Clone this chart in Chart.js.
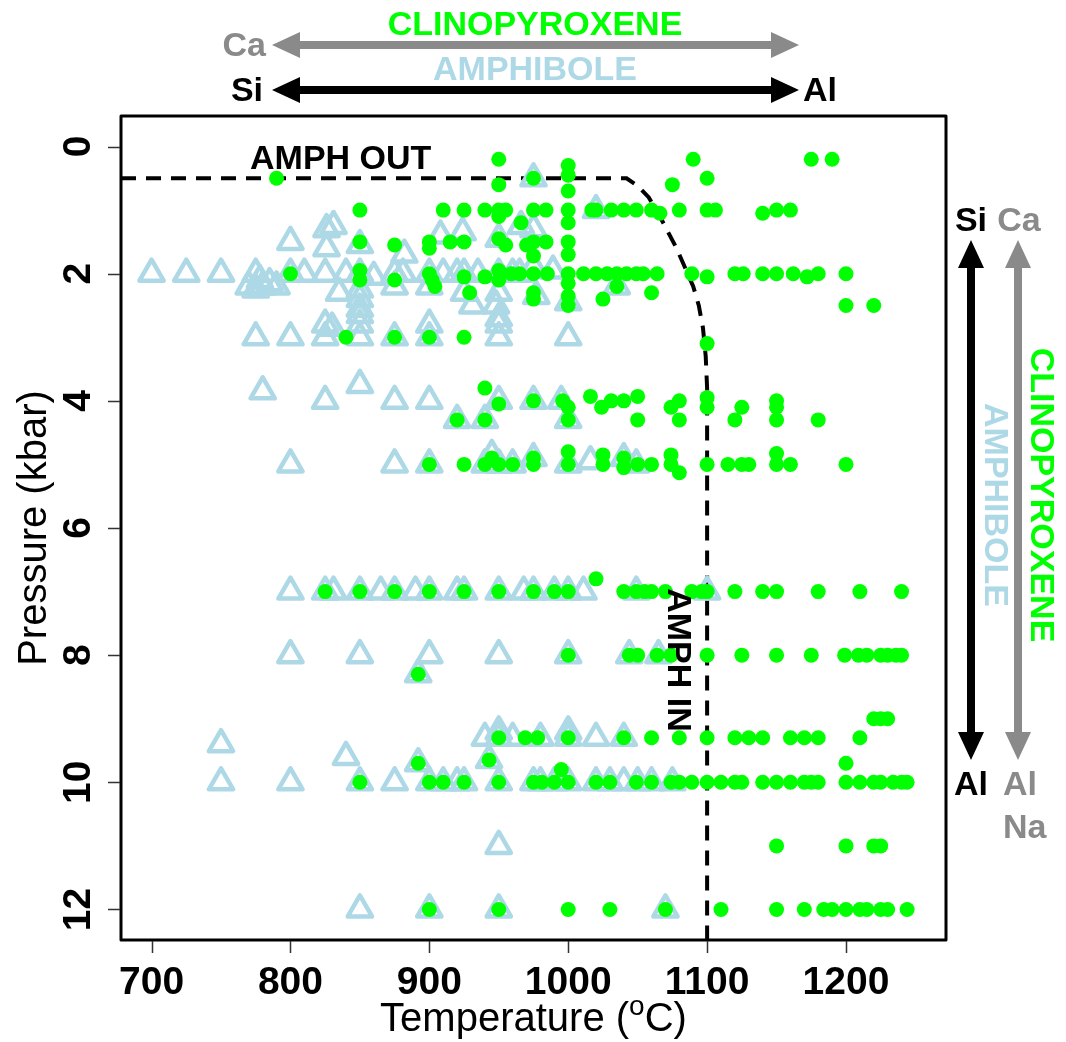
<!DOCTYPE html>
<html>
<head>
<meta charset="utf-8">
<script src="https://cdn.jsdelivr.net/npm/chart.js@4.4.1/dist/chart.umd.min.js"></script>
<style>
  html, body { margin: 0; padding: 0; background: #fff; }
  #wrap { width: 1066px; height: 1042px; position: relative; }
</style>
</head>
<body>
<div id="wrap"><canvas id="pt-chart"></canvas></div>
<script>
// Amphibole / clinopyroxene stability, P-T experiments

const tempTicks = [700, 800, 900, 1000, 1100, 1200];
const pressureTicks = [0, 2, 4, 6, 8, 10, 12];

// amphibole-bearing runs [T (C), P (kbar)]
const amphibolePoints = [
    [975, 0.5], [1020, 1.0],
    [800, 1.5], [826, 1.3], [831, 1.25], [826, 1.6], [850, 1.55], [882, 1.7], [908, 1.4], [924, 1.35],
    [950, 1.45], [966, 1.25], [975, 1.3],
    [700, 2.0], [725, 2.0], [750, 2.0], [775, 2.0], [800, 2.0], [810, 2.0], [825, 2.0], [840, 2.0],
    [850, 2.0], [860, 2.05], [875, 2.0], [881, 2.0], [900, 2.0], [910, 2.0], [920, 2.0], [925, 2.0],
    [935, 2.0], [950, 2.0], [960, 2.0], [965, 2.0], [975, 1.9], [989, 1.95],
    [770, 2.2], [775, 2.25], [780, 2.2], [785, 2.15], [790, 2.2], [778, 2.1], [835, 2.3], [850, 2.25],
    [850, 2.4], [850, 2.55], [875, 2.2], [900, 2.2], [925, 2.3], [931, 2.5], [948, 2.5], [950, 2.3],
    [977, 2.35], [1000, 2.45], [1035, 2.2],
    [825, 2.8], [830, 2.85], [850, 2.65], [850, 2.8], [900, 2.8], [950, 2.7], [950, 2.8],
    [775, 3.0], [800, 3.0], [825, 3.0], [850, 3.0], [875, 3.0], [900, 3.0], [950, 3.0], [1000, 3.0],
    [780, 3.85], [825, 4.0], [850, 3.75], [875, 4.0], [900, 4.0], [920, 4.3], [940, 4.3], [950, 4.0],
    [975, 4.0], [995, 4.0], [1000, 4.3],
    [800, 5.0], [875, 5.0], [900, 5.0], [940, 5.0], [945, 4.85], [950, 5.0], [960, 5.0], [975, 4.9],
    [1000, 5.0], [1016, 4.95], [1040, 4.9], [1049, 5.0],
    [800, 7], [825, 7], [831, 7], [850, 7], [865, 7], [875, 7], [890, 7], [900, 7], [920, 7], [925, 7],
    [950, 7], [968, 7], [975, 7], [990, 7], [1000, 7], [1011, 7], [1049, 7], [1100, 7],
    [800, 8], [850, 8], [900, 8], [950, 8], [1000, 8], [1044, 8], [1065, 8], [892, 8.3],
    [750, 9.4], [840, 9.6], [892, 9.7], [943, 9.65], [940, 9.3], [950, 9.2], [950, 9.3], [960, 9.3],
    [980, 9.3], [1000, 9.2], [1000, 9.3], [1020, 9.3], [1040, 9.3],
    [750, 10], [800, 10], [850, 10], [875, 10], [900, 10], [910, 10], [920, 10], [925, 10], [950, 10],
    [975, 10], [980, 10], [990, 10], [1000, 10], [1020, 10], [1030, 10], [1040, 10], [1050, 10],
    [1060, 10], [1075, 10],
    [950, 11], [850, 12], [900, 12], [950, 12], [1070, 12]
];

// clinopyroxene-bearing runs [T (C), P (kbar)]
const cpxPoints = [
    [790, 0.5], [950, 0.2], [950, 0.6], [975, 0.5], [1000, 0.3], [1000, 0.45], [1000, 0.7], [1075, 0.6],
    [1090, 0.2], [1100, 0.5], [1175, 0.2], [1190, 0.2],
    [850, 1.0], [910, 1.0], [925, 1.0], [940, 1.0], [950, 1.0], [950, 1.1], [955, 1.0], [966, 1.2],
    [975, 1.0], [984, 1.0], [1000, 1.0], [1000, 1.2], [1017, 1.0], [1020, 1.0], [1031, 1.0], [1040, 1.0],
    [1049, 1.0], [1060, 1.0], [1066, 1.05], [1080, 1.0], [1100, 1.0], [1106, 1.0], [1140, 1.05],
    [1150, 1.0], [1160, 1.0],
    [850, 1.5], [875, 1.55], [900, 1.5], [900, 1.6], [915, 1.5], [925, 1.5], [950, 1.45], [955, 1.55],
    [970, 1.55], [975, 1.5], [975, 1.72], [984, 1.5], [1000, 1.5], [1000, 1.7],
    [800, 2.0], [850, 1.95], [850, 2.1], [875, 2.1], [900, 2.0], [902, 2.1], [904, 2.2], [925, 2.05],
    [929, 2.3], [940, 2.05], [950, 1.95], [950, 2.1], [959, 2.0], [965, 2.0], [975, 2.0], [975, 2.3],
    [975, 2.4], [985, 2.0], [1000, 2.0], [1000, 2.15], [1000, 2.35], [1000, 2.5], [1011, 2.0],
    [1020, 2.0], [1028, 2.0], [1035, 2.0], [1042, 2.0], [1049, 2.0], [1054, 2.0], [1064, 2.0],
    [1089, 2.0], [1100, 2.05], [1120, 2.0], [1126, 2.0], [1140, 2.0], [1150, 2.0], [1162, 2.0],
    [1172, 2.05], [1180, 2.0], [1200, 2.0],
    [1025, 2.4], [1035, 2.2], [1060, 2.3], [1200, 2.5], [1220, 2.5],
    [840, 3.0], [875, 3.0], [900, 3.0], [925, 3.0], [1100, 3.1],
    [940, 3.8], [950, 4.05], [975, 4.0], [996, 4.0], [1000, 4.1], [1016, 3.93], [1024, 4.1], [1031, 4.0],
    [1040, 4.0], [1050, 3.93], [1074, 4.1], [1080, 4.0], [1100, 3.95], [1100, 4.1], [1125, 4.1],
    [1150, 4.0], [1150, 4.1],
    [920, 4.3], [940, 4.3], [1000, 4.3], [1050, 4.3], [1080, 4.3], [1120, 4.3], [1150, 4.3], [1180, 4.3],
    [900, 5.0], [925, 5.0], [940, 5.0], [945, 4.9], [950, 5.0], [960, 5.0], [975, 4.9], [975, 5.0],
    [1000, 4.8], [1000, 5.0], [1025, 4.85], [1025, 5.0], [1040, 4.9], [1040, 5.05], [1050, 5.0],
    [1060, 5.0], [1074, 4.85], [1074, 5.0], [1080, 5.13], [1100, 5.0], [1115, 5.0], [1125, 5.0],
    [1130, 5.0], [1150, 4.83], [1150, 5.0], [1160, 5.0], [1200, 5.0],
    [825, 7], [850, 7], [875, 7], [900, 7], [925, 7], [950, 7], [975, 7], [990, 7], [1000, 7],
    [1020, 6.8], [1040, 7], [1049, 7], [1055, 7], [1060, 7], [1070, 7], [1089, 7], [1096, 7], [1100, 7],
    [1120, 7], [1140, 7], [1150, 7], [1180, 7], [1210, 7], [1240, 7],
    [892, 8.3], [1000, 8], [1044, 8], [1050, 8], [1064, 8], [1074, 8], [1100, 8], [1125, 8], [1150, 8],
    [1175, 8], [1199, 8], [1209, 8], [1215, 8], [1225, 8], [1230, 8], [1236, 8], [1240, 8],
    [1220, 9.0], [1225, 9.0], [1230, 9.0],
    [950, 9.3], [969, 9.3], [978, 9.3], [1000, 9.3], [1040, 9.3], [1060, 9.3], [1080, 9.3], [1100, 9.3],
    [1120, 9.3], [1130, 9.3], [1140, 9.3], [1160, 9.3], [1170, 9.3], [1180, 9.3], [1210, 9.3],
    [892, 9.7], [943, 9.65], [995, 9.8], [1200, 9.7],
    [850, 10], [900, 10], [910, 10], [925, 10], [950, 10], [975, 10], [981, 10], [990, 10], [1000, 10],
    [1020, 10], [1030, 10], [1049, 10], [1060, 10], [1074, 10], [1080, 10], [1089, 10], [1100, 10],
    [1110, 10], [1120, 10], [1125, 10], [1140, 10], [1150, 10], [1160, 10], [1170, 10], [1175, 10],
    [1180, 10], [1200, 10], [1210, 10], [1220, 10], [1225, 10], [1234, 10], [1240, 10], [1244, 10],
    [1150, 11], [1200, 11], [1220, 11], [1225, 11],
    [900, 12], [950, 12], [1000, 12], [1030, 12], [1070, 12], [1110, 12], [1150, 12], [1170, 12],
    [1184, 12], [1190, 12], [1200, 12], [1210, 12], [1215, 12], [1225, 12], [1230, 12], [1244, 12]
];

// amphibole in/out boundary (dashed)
const boundaryT = [678, 1042, 1050, 1058, 1066, 1072, 1078, 1084, 1090, 1094, 1097, 1099, 1100, 1100];
const boundaryP = [0.5, 0.5, 0.62, 0.8, 1.1, 1.35, 1.6, 1.9, 2.2, 2.5, 2.85, 3.3, 3.8, 12.6];

const colors = {
    black: '#000000',
    gray: '#8a8a8a',
    green: '#00ff00',
    lightblue: '#add8e6',
    tick: '#333333'
};
const fontFamily = '"Liberation Sans", Arial, sans-serif';

function drawText(ctx, text, x, y, opts = {}) {
    const { color = colors.black, size = 34, weight = 'bold', align = 'center', rotate = 0 } = opts;
    ctx.save();
    ctx.translate(x, y);
    if (rotate) ctx.rotate(rotate);
    ctx.font = `${weight} ${size}px ${fontFamily}`;
    ctx.fillStyle = color;
    ctx.textAlign = align;
    ctx.textBaseline = 'alphabetic';
    ctx.fillText(text, 0, 0);
    ctx.restore();
}

// double-headed arrow between two points
function drawArrow(ctx, x1, y1, x2, y2, color) {
    const shaft = 8, headLen = 28, headHalf = 13;
    const len = Math.hypot(x2 - x1, y2 - y1);
    ctx.save();
    ctx.translate(x1, y1);
    ctx.rotate(Math.atan2(y2 - y1, x2 - x1));
    ctx.fillStyle = color;
    ctx.fillRect(headLen - 1, -shaft / 2, len - 2 * headLen + 2, shaft);
    ctx.beginPath();
    ctx.moveTo(0, 0);
    ctx.lineTo(headLen, -headHalf);
    ctx.lineTo(headLen, headHalf);
    ctx.closePath();
    ctx.moveTo(len, 0);
    ctx.lineTo(len - headLen, -headHalf);
    ctx.lineTo(len - headLen, headHalf);
    ctx.closePath();
    ctx.fill();
    ctx.restore();
}

const decorPlugin = {
    id: 'decor',
    beforeDatasetsDraw(chart) {
        chart.ctx.lineJoin = 'round';
    },
    afterDraw(chart) {
        const { ctx, chartArea: a, scales: { x, y } } = chart;
        ctx.save();

        // frame
        ctx.strokeStyle = colors.black;
        ctx.lineWidth = 3;
        ctx.strokeRect(a.left, a.top, a.right - a.left, a.bottom - a.top);

        // tick marks
        ctx.strokeStyle = colors.tick;
        ctx.lineWidth = 1.5;
        ctx.beginPath();
        tempTicks.forEach(t => {
            const px = Math.round(x.getPixelForValue(t)) + 0.5;
            ctx.moveTo(px, a.bottom + 1);
            ctx.lineTo(px, a.bottom + 13);
        });
        pressureTicks.forEach(p => {
            const py = Math.round(y.getPixelForValue(p)) + 0.5;
            ctx.moveTo(a.left - 1, py);
            ctx.lineTo(a.left - 13, py);
        });
        ctx.stroke();

        // tick labels
        tempTicks.forEach(t => drawText(ctx, String(t), x.getPixelForValue(t), 994, { size: 39 }));
        pressureTicks.forEach(p => drawText(ctx, String(p), 90, y.getPixelForValue(p), { size: 39, rotate: -Math.PI / 2 }));

        // axis titles
        drawText(ctx, 'Pressure (kbar)', 46, (a.top + a.bottom) / 2, { size: 40, weight: 'normal', rotate: -Math.PI / 2 });
        ctx.font = `normal 40px ${fontFamily}`;
        const p1 = 'Temperature (', p3 = 'C)';
        const w1 = ctx.measureText(p1).width, w3 = ctx.measureText(p3).width;
        ctx.font = `normal 28px ${fontFamily}`;
        const w2 = ctx.measureText('o').width;
        let tx = (a.left + a.right) / 2 - (w1 + w2 + w3) / 2;
        drawText(ctx, p1, tx, 1031, { size: 40, weight: 'normal', align: 'left' });
        drawText(ctx, 'o', tx + w1, 1015, { size: 28, weight: 'normal', align: 'left' });
        drawText(ctx, p3, tx + w1 + w2, 1031, { size: 40, weight: 'normal', align: 'left' });

        // top composition arrows
        drawText(ctx, 'CLINOPYROXENE', 535, 35, { color: colors.green });
        drawText(ctx, 'Ca', 266, 56, { color: colors.gray, align: 'right' });
        drawArrow(ctx, 272, 45, 799, 45, colors.gray);
        drawText(ctx, 'AMPHIBOLE', 535, 80, { color: colors.lightblue });
        drawText(ctx, 'Si', 263, 101, { align: 'right' });
        drawArrow(ctx, 272, 90, 799, 90, colors.black);
        drawText(ctx, 'Al', 803, 101, { align: 'left' });

        // right composition arrows
        drawText(ctx, 'Si', 971, 231);
        drawText(ctx, 'Ca', 1019, 231, { color: colors.gray });
        drawArrow(ctx, 971, 240, 971, 760, colors.black);
        drawArrow(ctx, 1018, 240, 1018, 760, colors.gray);
        drawText(ctx, 'AMPHIBOLE', 985, 505, { color: colors.lightblue, rotate: Math.PI / 2 });
        drawText(ctx, 'CLINOPYROXENE', 1031, 495, { color: colors.green, rotate: Math.PI / 2 });
        drawText(ctx, 'Al', 971, 795);
        drawText(ctx, 'Al', 1003, 795, { color: colors.gray, align: 'left' });
        drawText(ctx, 'Na', 1003, 838, { color: colors.gray, align: 'left' });

        // boundary labels
        drawText(ctx, 'AMPH OUT', 250, 169, { align: 'left' });
        drawText(ctx, 'AMPH IN', 668, 660, { rotate: Math.PI / 2 });

        ctx.restore();
    }
};

document.addEventListener('DOMContentLoaded', () => {
    const ctx = document.getElementById('pt-chart');

    new Chart(ctx, {
        type: 'scatter',
        data: {
            datasets: [
                {
                    label: 'Clinopyroxene',
                    data: cpxPoints.map(([t, p]) => ({ x: t, y: p })),
                    pointStyle: 'circle',
                    pointRadius: 7.5,
                    pointBackgroundColor: colors.green,
                    pointBorderWidth: 0
                },
                {
                    label: 'Amphibole',
                    data: amphibolePoints.map(([t, p]) => ({ x: t, y: p })),
                    pointStyle: 'triangle',
                    pointRadius: 14,
                    pointBackgroundColor: 'rgba(0,0,0,0)',
                    pointBorderColor: colors.lightblue,
                    pointBorderWidth: 4.5
                },
                {
                    label: 'Amph boundary',
                    data: boundaryT.map((t, i) => ({ x: t, y: boundaryP[i] })),
                    showLine: true,
                    borderColor: colors.black,
                    borderWidth: 4,
                    borderDash: [15, 10],
                    pointRadius: 0,
                    fill: false,
                    tension: 0
                }
            ]
        },
        options: {
            responsive: true,
            maintainAspectRatio: false,
            animation: false,
            events: [],
            layout: {
                padding: { left: 121, top: 116, right: 120, bottom: 102 }
            },
            plugins: {
                legend: { display: false },
                tooltip: { enabled: false }
            },
            scales: {
                x: { type: 'linear', min: 678, max: 1272, display: false },
                y: { type: 'linear', reverse: true, min: -0.48, max: 12.48, display: false }
            }
        },
        plugins: [decorPlugin]
    });
});
</script>
</body>
</html>
